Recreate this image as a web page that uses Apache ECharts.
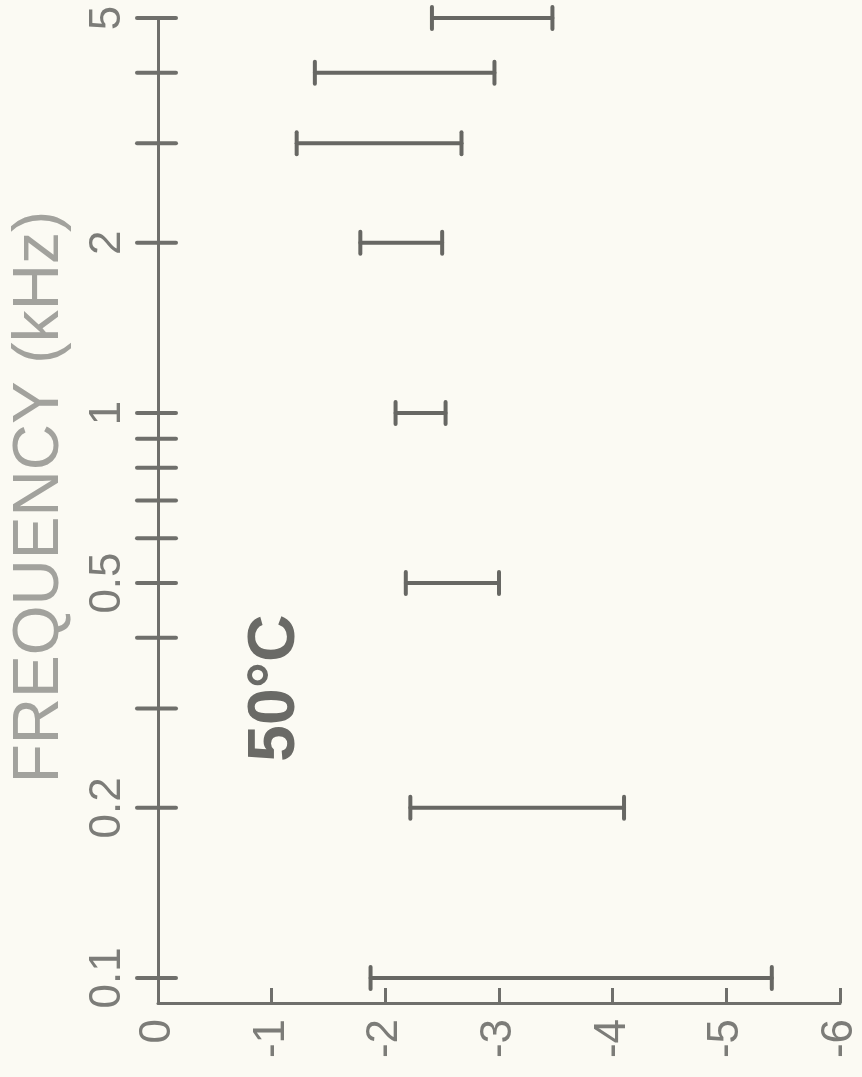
<!DOCTYPE html>
<html><head><meta charset="utf-8">
<script src="https://cdn.jsdelivr.net/npm/echarts@6/dist/echarts.min.js"></script>
<style>html,body{margin:0;padding:0;background:#fbfaf3}#c{width:862px;height:1077px}</style>
</head><body><div id="c"></div>
<script>
// Frequency (kHz) of each measurement
const frequencies = [0.1, 0.2, 0.5, 1, 2, 3, 4, 5];
// Range ends (value axis, 0 .. -6)
const lowValues  = [-1.87, -2.22, -2.18, -2.09, -1.78, -1.22, -1.38, -2.41];
const highValues = [-5.40, -4.10, -3.00, -2.53, -2.50, -2.67, -2.96, -3.47];
// Frequency axis ticks and labels
const freqTicks = [0.1, 0.2, 0.3, 0.4, 0.5, 0.6, 0.7, 0.8, 0.9, 1, 2, 3, 4, 5];
const freqLabels = ['0.1', '0.2', '0.5', '1', '2', '5'];
const annotation = '50°C';
const freqTitle = 'FREQUENCY (kHz)';

const LINE = '#6f6f6b';
const TEXT = '#7c7c78';
const FONT = '"Liberation Sans", Arial, sans-serif';

const barData = frequencies.map((f, i) => [lowValues[i], highValues[i], f]);

const chart = echarts.init(document.getElementById('c'), null, {renderer: 'canvas'});
chart.setOption({
  backgroundColor: '#fbfaf3',
  animation: false,
  grid: {left: 158, right: 18, top: 18, bottom: 74},
  xAxis: {
    type: 'value', min: -6, max: 0, interval: 1, inverse: true,
    axisLine: {show: true, lineStyle: {color: LINE, width: 3}},
    axisTick: {show: true, inside: true, length: 15, lineStyle: {color: LINE, width: 3}},
    splitLine: {show: false},
    axisLabel: {rotate: 90, margin: 16, color: TEXT, fontSize: 44, fontFamily: FONT}
  },
  yAxis: {
    type: 'log', logBase: 10, min: 0.0903, max: 5,
    axisLine: {show: true, lineStyle: {color: LINE, width: 3}},
    axisTick: {show: false}, axisLabel: {show: false}, splitLine: {show: false}
  },
  graphic: [
    {type: 'text', x: 40, y: 497, rotation: Math.PI / 2,
     style: {text: freqTitle, fontSize: 64, fontFamily: FONT, fill: '#a2a29d', align: 'center', verticalAlign: 'middle'}},
    {type: 'text', x: 276, y: 688, rotation: Math.PI / 2,
     style: {text: annotation, fontSize: 66, fontWeight: 'bold', fontFamily: FONT, fill: '#6a6a66', align: 'center', verticalAlign: 'middle'}}
  ],
  series: [
    {
      type: 'custom', name: 'freqTicks', silent: true,
      data: freqTicks.map(f => [0, f]),
      encode: {x: 0, y: 1},
      renderItem: function (params, api) {
        const p = api.coord([0, api.value(1)]);
        return {type: 'line', shape: {x1: p[0] - 21, y1: p[1], x2: p[0] + 18, y2: p[1]},
                style: {stroke: LINE, lineWidth: 4, lineCap: 'round'}};
      }
    },
    {
      type: 'custom', name: 'freqLabels', silent: true,
      data: freqLabels.map(s => [0, parseFloat(s), s]),
      encode: {x: 0, y: 1},
      renderItem: function (params, api) {
        const p = api.coord([0, api.value(1)]);
        const s = freqLabels[params.dataIndex];
        return {type: 'text', x: p[0] - 50, y: p[1], rotation: Math.PI / 2,
                style: {text: s, fontSize: 44, fontFamily: FONT, fill: TEXT, align: 'center', verticalAlign: 'middle'}};
      }
    },
    {
      type: 'custom', name: 'ranges', silent: true,
      data: barData,
      encode: {x: [0, 1], y: 2},
      renderItem: function (params, api) {
        const a = api.coord([api.value(0), api.value(2)]);
        const b = api.coord([api.value(1), api.value(2)]);
        const st = {stroke: '#676763', lineWidth: 4, lineCap: 'round'};
        return {type: 'group', children: [
          {type: 'line', shape: {x1: a[0], y1: a[1], x2: b[0], y2: b[1]}, style: st},
          {type: 'line', shape: {x1: a[0], y1: a[1] - 11, x2: a[0], y2: a[1] + 11}, style: st},
          {type: 'line', shape: {x1: b[0], y1: b[1] - 11, x2: b[0], y2: b[1] + 11}, style: st}
        ]};
      }
    }
  ]
});
</script></body></html>
